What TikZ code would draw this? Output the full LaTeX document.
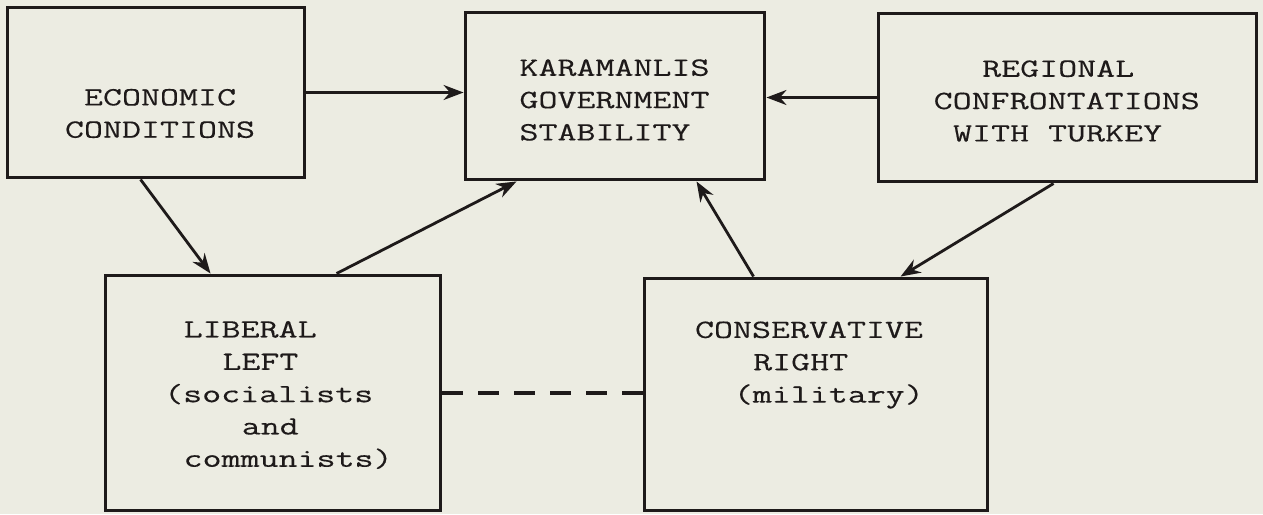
\documentclass[tikz,border=0pt]{standalone}
\usepackage{fontspec}
\newfontfamily\typer{Latin Modern Mono}[FakeStretch=1.4, FakeBold=0.3]
\usepackage{xcolor}
\usetikzlibrary{arrows.meta, calc}
\definecolor{paper}{RGB}{236,236,226}
\definecolor{ink}{RGB}{30,26,26}
\newcommand{\pad}[1]{\hspace*{#1\dimexpr0.388cm\relax}}

\begin{document}
\begin{tikzpicture}[
                x=0.02cm, y=-0.02cm,
                box/.style={rectangle, draw=ink, line width=1.7pt, inner sep=0pt},
                boxtext/.style={inner sep=0pt, text=ink, font=\typer\fontsize{15}{18.4}\selectfont},
                link/.style={-{Stealth[length=0.4cm, width=0.3cm]}, draw=ink, line width=1.6pt},
                tie/.style={draw=ink, line width=1.8pt, dash pattern=on 0.42cm off 0.3cm}
                ]
                % Paper
                \fill[paper] (0,0) rectangle (1263,514);

                % Boxes
                \node[box, minimum width=5.96cm, minimum height=3.42cm] (econ) at (156,92.5) {};
                \node[box, minimum width=6.00cm, minimum height=3.36cm] (gov) at (615,96) {};
                \node[box, minimum width=7.58cm, minimum height=3.38cm] (turkey) at (1067.5,97.5) {};
                \node[box, minimum width=6.72cm, minimum height=4.72cm] (left) at (273,393) {};
                \node[box, minimum width=6.88cm, minimum height=4.66cm] (right) at (816,394.5) {};

                % Box texts
                \node[boxtext, align=center] (econ_txt) at (160,113.5) {ECONOMIC\\CONDITIONS};
                \node[boxtext, align=left] (gov_txt) at (614.5,100) {KARAMANLIS\\GOVERNMENT\\STABILITY};
                \node[boxtext, align=left] (turkey_txt) at (1066.7,101) {\pad{2.5}REGIONAL\\CONFRONTATIONS\\\pad{1}WITH TURKEY};
                \node[boxtext, align=left] (left_txt) at (278.4,395) {\pad{1}LIBERAL\\\pad{3}LEFT\\(socialists\\\pad{4}and\\\pad{1}communists)};
                \node[boxtext, align=left] (right_txt) at (809.4,365) {CONSERVATIVE\\\pad{3}RIGHT\\\pad{2}(military)};

                % Influences
                \draw[link] (econ.east) -- (econ.east -| gov.west);
                \draw[link] (turkey.west) -- (turkey.west -| gov.east);
                \draw[link] ($(econ.south west)+(135,0)$) -- ($(left.north west)+(107,0)$);
                \draw[link] ($(left.north west)+(233,0)$) -- ($(gov.south west)+(53,0)$);
                \draw[link] ($(right.north west)+(111,0)$) -- ($(gov.south west)+(233,0)$);
                \draw[link] ($(turkey.south west)+(177,0)$) -- ($(right.north west)+(258,0)$);

                % Left and right
                \draw[tie] (left.east) -- (left.east -| right.west);

\end{tikzpicture}
\end{document}
